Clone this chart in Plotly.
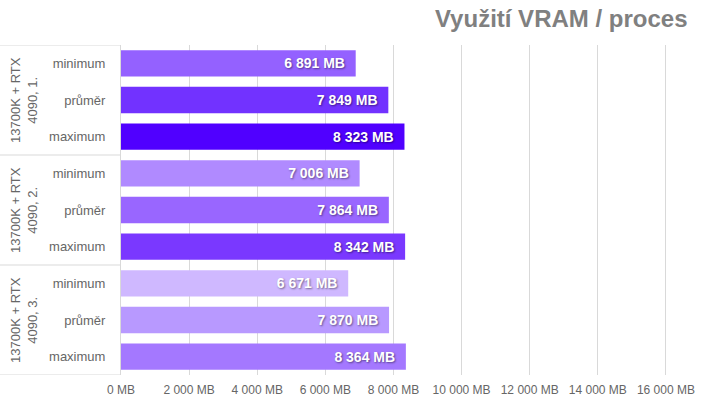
import plotly.graph_objects as go

groups = ["13700K + RTX<br>4090, 1.", "13700K + RTX<br>4090, 2.", "13700K + RTX<br>4090, 3."]
subcats = ["minimum", "průměr", "maximum"]
values = [6891, 7849, 8323, 7006, 7864, 8342, 6671, 7870, 8364]
colors = ["#9461ff", "#7232ff", "#5000ff",
          "#b08aff", "#9966ff", "#7a38ff",
          "#cfb8ff", "#b899ff", "#a478ff"]
xtick_vals = [0, 2000, 4000, 6000, 8000, 10000, 12000, 14000, 16000]
xtick_text = ["0 MB", "2 000 MB", "4 000 MB", "6 000 MB", "8 000 MB",
              "10 000 MB", "12 000 MB", "14 000 MB", "16 000 MB"]
title = "Využití VRAM / proces"

FONT = "Liberation Sans"

def fmt(v):
    return "{:,}".format(v).replace(",", " ") + " MB\u00a0\u00a0"

ypos = list(range(len(values)))
ylabels = [subcats[i % 3] for i in ypos]

fig = go.Figure(go.Bar(
    x=values, y=ypos, orientation="h",
    marker=dict(color=colors, line=dict(width=0)),
    width=0.72,
    text=[fmt(v) for v in values],
    textposition="inside", insidetextanchor="end",
    textfont=dict(family=FONT, size=14, color="white",
                  weight="bold", shadow="1px 1px 2px rgba(0,0,0,0.45)"),
    hoverinfo="skip",
))

L, R, T, B = 121, 20, 45, 30
W = 720 - L - R
fig.update_layout(
    width=720, height=405,
    margin=dict(l=L, r=R, t=T, b=B, autoexpand=False),
    paper_bgcolor="white", plot_bgcolor="white",
    showlegend=False,
    font=dict(family=FONT, color="#595959"),
    xaxis=dict(range=[0, 17000], tickvals=xtick_vals, ticktext=xtick_text,
               showgrid=True, gridcolor="#d9d9d9", gridwidth=1,
               zeroline=False, showline=False, ticklabelstandoff=6,
               automargin=False,
               tickfont=dict(family=FONT, size=12, color="#666666"), ticks=""),
    yaxis=dict(range=[8.5, -0.5], tickvals=ypos, ticktext=ylabels,
               showgrid=False, zeroline=False, showline=True,
               linecolor="#d9d9d9", linewidth=1, ticks="",
               ticklabelstandoff=12, automargin=False,
               tickfont=dict(family=FONT, size=13, color="#666666")),
    annotations=[dict(text=title, xref="paper", yref="paper",
                      x=(690 - L) / W, y=1, xanchor="right", yanchor="middle",
                      yshift=27, showarrow=False,
                      font=dict(family=FONT, size=24, color="#808080", weight="bold"))],
)

shapes = []
for yb in [-0.5, 2.5, 5.5, 8.5]:
    shapes.append(dict(type="line", xref="paper", yref="y",
                       x0=-L / W, x1=0, y0=yb, y1=yb,
                       line=dict(color="#d9d9d9", width=1)))
fig.update_layout(shapes=shapes)

for gi, g in enumerate(groups):
    fig.add_annotation(text=g, xref="paper", yref="y",
                       x=-97 / W, y=gi * 3 + 1, xanchor="center", yanchor="middle",
                       textangle=-90, showarrow=False,
                       font=dict(family=FONT, size=13, color="#666666"))

fig.write_html("out.html")
